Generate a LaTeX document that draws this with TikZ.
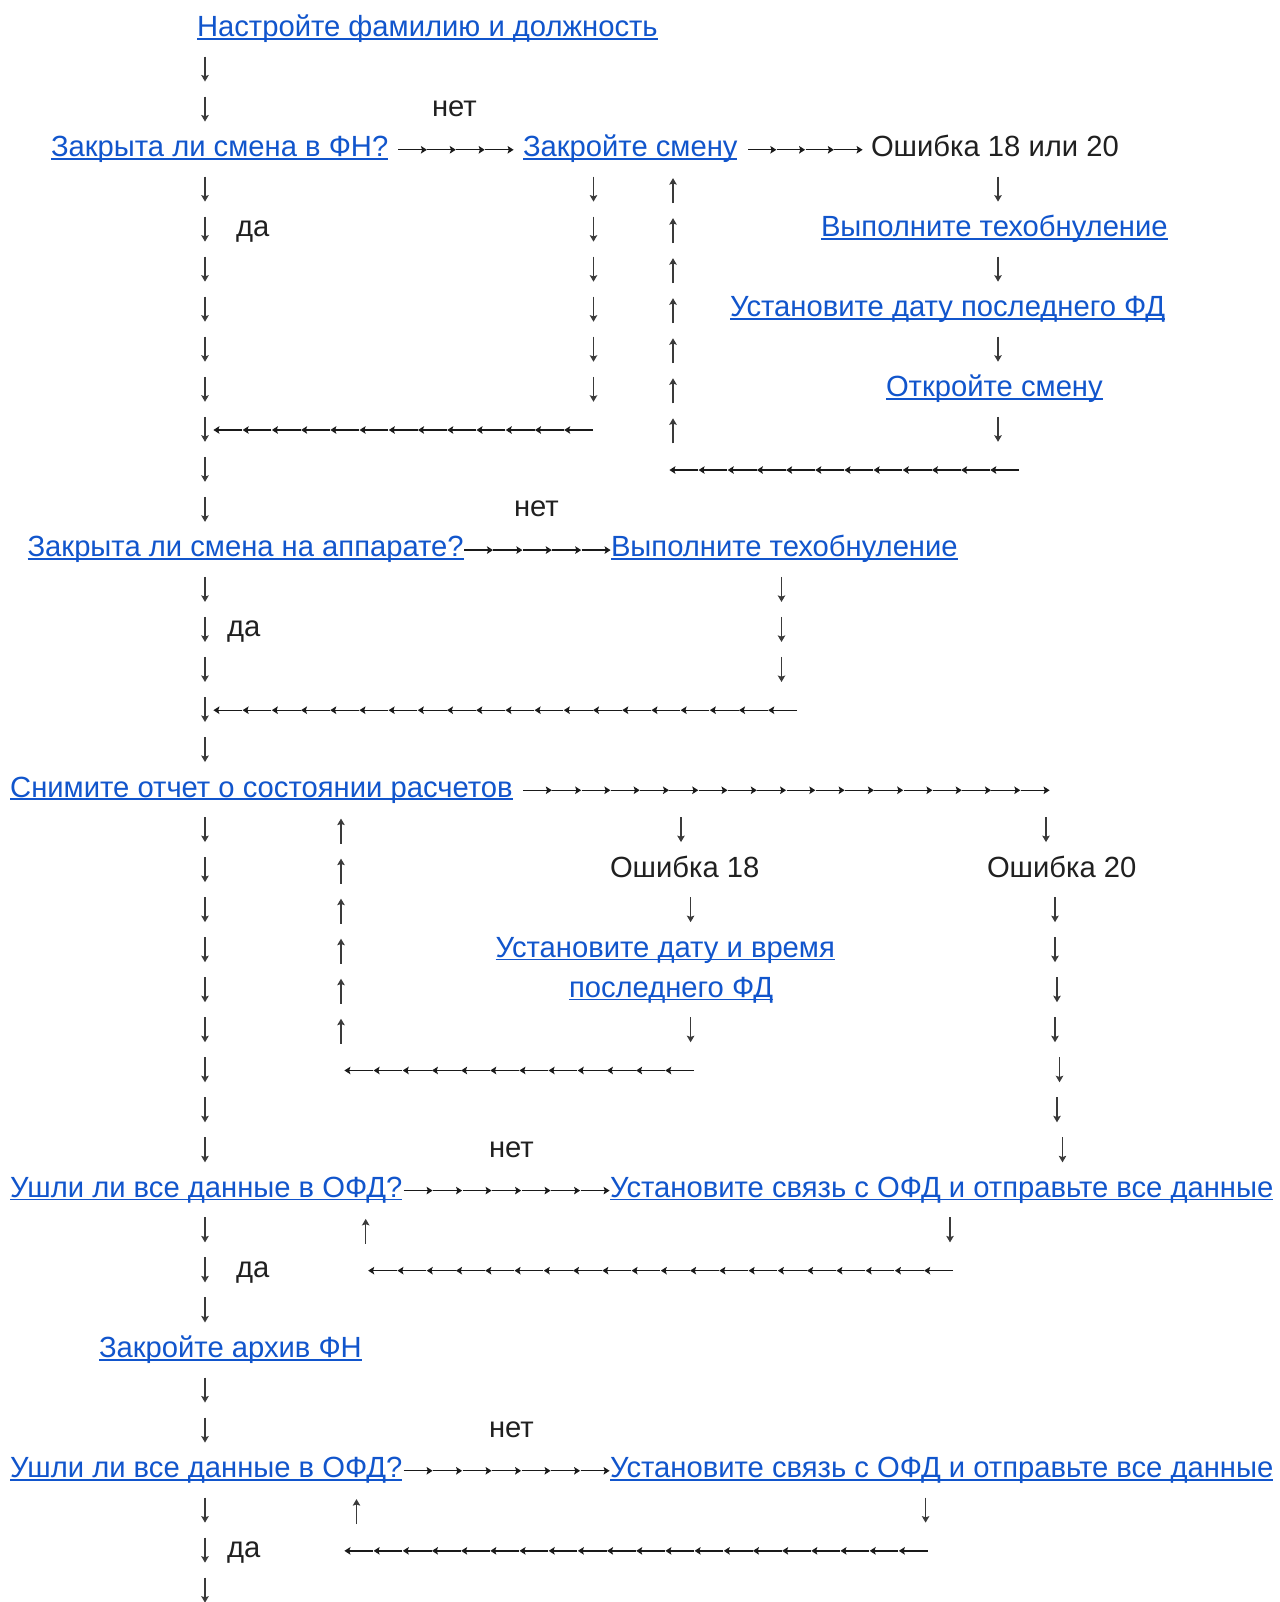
\documentclass[tikz,border=0pt]{standalone}
\usepackage{fontspec}
\usetikzlibrary{arrows.meta}
\setmainfont{Liberation Sans}
\definecolor{linkblue}{HTML}{1155CC}
\definecolor{ink}{HTML}{202020}
\definecolor{varink}{HTML}{3A3A3A}
\definecolor{harink}{HTML}{1A1A1A}
\newcommand\R[1]{-40.03*#1}
\newcommand\lnk[4]{\node[lnk] (#1) at (#2,\R{#3}) {#4};
  \draw[ul] ([yshift=-2.2pt]#1.base west) -- ([yshift=-2.2pt]#1.base east);}
% vertical glyph arrows: x, row
\newcommand\dn[2]{\draw[va] (#1,{-40.03*#2+20}) -- (#1,{-40.03*#2-5});}
\newcommand\upa[2]{\draw[va] (#1,{-40.03*#2-6.5}) -- (#1,{-40.03*#2+18.5});}
% horizontal chains: start x, end x, row, count
\newcommand\rch[4]{\foreach \k in {1,...,#4}{%
  \pgfmathsetmacro\xa{#1+(#2-#1)/#4*(\k-1)}%
  \pgfmathsetmacro\xb{#1+(#2-#1)/#4*\k-0.4}%
  \draw[ha] (\xa,{-40.03*#3+6.8}) -- (\xb,{-40.03*#3+6.8});}}
\newcommand\lch[4]{\foreach \k in {1,...,#4}{%
  \pgfmathsetmacro\xa{#1+(#2-#1)/#4*(\k-1)+0.4}%
  \pgfmathsetmacro\xb{#1+(#2-#1)/#4*\k}%
  \draw[ha] (\xb,{-40.03*#3+6.8}) -- (\xa,{-40.03*#3+6.8});}}
\begin{document}
\begin{tikzpicture}[x=1pt,y=1pt,
  base/.style={inner sep=0pt,outer sep=0pt,font=\fontsize{29.2}{34}\selectfont},
  lnk/.style={base,anchor=base west,text=linkblue},
  txt/.style={base,anchor=base west,text=ink},
  ul/.style={draw=linkblue,line width=1.7pt},
  va/.style={draw=varink,line width=1.15pt,-{Stealth[length=6.5pt,width=7.5pt,inset=1.2pt]}},
  ha/.style={draw=harink,line width=1.3pt,-{Stealth[length=6pt,width=7.5pt,inset=1.2pt]}}]
\useasboundingbox[fill=white] (0,36.5) rectangle (1279,-1565.5);
% row 0
\lnk{n0}{197}{0}{Настройте фамилию и должность}
% main column of down arrows
\foreach \i in {1,2,4,5,6,7,8,9,10,11,12,14,15,16,17,18,20,21,22,23,24,25,26,27,28,30,31,32,34,35,37,38,39}
  {\dn{205}{\i}}
% rows 2-3
\node[txt] (net1) at (432,\R{2}) {нет};
\lnk{q1}{51}{3}{Закрыта ли смена в ФН?}
\rch{398.4}{514}{3}{4}
\lnk{close1}{523}{3}{Закройте смену}
\rch{748}{863}{3}{4}
\node[txt] (err1) at (871,\R{3}) {Ошибка 18 или 20};
% columns
\foreach \i in {4,...,9} {\dn{593.5}{\i}}
\foreach \i in {4,...,10} {\upa{673}{\i}}
\foreach \i in {4,6,8,10} {\dn{998}{\i}}
\node[txt] (da1) at (236,\R{5}) {да};
\lnk{tech1}{821}{5}{Выполните техобнуление}
\lnk{date1}{730}{7}{Установите дату последнего ФД}
\lnk{open1}{886}{9}{Откройте смену}
\lch{213}{593}{10}{13}
\lch{669}{1019}{11}{12}
% rows 12-17
\node[txt] (net2) at (514,\R{12}) {нет};
\lnk{q2}{27.6}{13}{Закрыта ли смена на аппарате?}
\rch{464}{611}{13}{5}
\lnk{tech2}{611}{13}{Выполните техобнуление}
\foreach \i in {14,15,16} {\dn{781.5}{\i}}
\node[txt] (da2) at (227,\R{15}) {да};
\lch{213}{797}{17}{20}
% row 19
\lnk{rep}{10.2}{19}{Снимите отчет о состоянии расчетов\ }
\rch{523}{1050}{19}{18}
\foreach \i in {20,...,25} {\upa{341}{\i}}
\dn{681}{20}
\dn{1046}{20}
\node[txt] (err18) at (610,\R{21}) {Ошибка 18};
\node[txt] (err20) at (987,\R{21}) {Ошибка 20};
\dn{690.6}{22}
\dn{690.6}{25}
\lnk{dt1}{495.5}{23}{Установите дату и время}
\lnk{dt2}{569}{24}{последнего ФД}
\dn{1055}{22}
\dn{1055}{23}
\dn{1057}{24}
\dn{1055}{25}
\dn{1059.5}{26}
\dn{1057}{27}
\dn{1062.5}{28}
\lch{344}{694}{26}{12}
% rows 28-31
\node[txt] (net3) at (489,\R{28}) {нет};
\lnk{ofd1}{10.2}{29}{Ушли ли все данные в ОФД?}
\rch{403.5}{610}{29}{7}
\lnk{send1}{610}{29}{Установите связь с ОФД и отправьте все данные}
\upa{365.7}{30}
\dn{950}{30}
\node[txt] (da3) at (236,\R{31}) {да};
\lch{367.8}{953}{31}{20}
% rows 33-38
\lnk{arch}{99}{33}{Закройте архив ФН}
\node[txt] (net4) at (489,\R{35}) {нет};
\lnk{ofd2}{10.2}{36}{Ушли ли все данные в ОФД?}
\rch{403.5}{610}{36}{7}
\lnk{send2}{610}{36}{Установите связь с ОФД и отправьте все данные}
\upa{356.5}{37}
\dn{925.6}{37}
\node[txt] (da4) at (227,\R{38}) {да};
\lch{344}{927.6}{38}{20}
\end{tikzpicture}
\end{document}
